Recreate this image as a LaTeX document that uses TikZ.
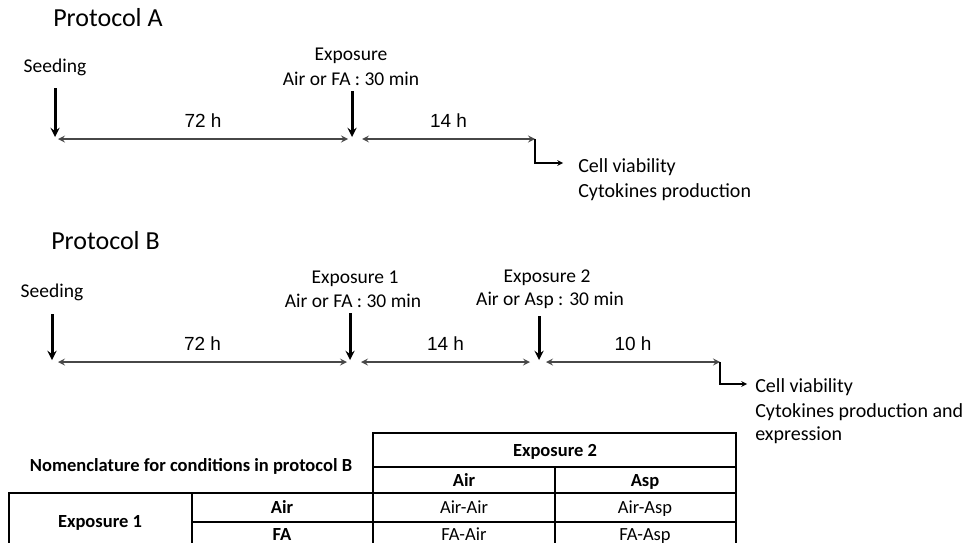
\documentclass[tikz,border=0pt]{standalone}
\usepackage{fontspec}
\setmainfont{Carlito}
\newfontfamily\hourfont{Liberation Sans}
\usetikzlibrary{arrows}

\begin{document}
\begin{tikzpicture}[
            x = 1pt, y = -1pt, % one unit per pixel, y pointing down
            > = stealth, % arrow head style
            every node/.style = {inner sep = 0pt},
            semithick % line style
        ]

        \tikzstyle{title}=[anchor = base west, font = \fontsize{26}{30}\selectfont]
        \tikzstyle{event}=[anchor = base, font = \fontsize{19.5}{24}\selectfont]
        \tikzstyle{hours}=[anchor = base, text = black, yshift = 12pt, font = \hourfont\fontsize{19}{22}\selectfont]
        \tikzstyle{drop}=[->, line width = 3pt, black]
        \tikzstyle{span}=[<->, line width = 2pt, black!72]
        \tikzstyle{readout}=[->, line width = 1.5pt, black]
        \tikzstyle{result}=[anchor = base west, font = \fontsize{20}{24}\selectfont]
        \tikzstyle{cell}=[anchor = base, font = \fontsize{18.5}{21}\selectfont]
        \tikzstyle{head}=[anchor = base, font = \bfseries\fontsize{18.5}{21}\selectfont]
        \tikzstyle{rule}=[line width = 1.6pt, black]

        \useasboundingbox (0,0) rectangle (966,543);

        % Protocol A
        \node[title] (titleA) at (53,27) {Protocol A};

        \node[event] (seedA) at (55,72) {Seeding};
        \node[event] (expA) at (351,60) {Exposure};
        \node[event] (condA) at (351,85) {Air or FA : 30 min};

        \coordinate (seedtopA) at (55,88);
        \coordinate (seedA0) at (55,137);
        \coordinate (exptopA) at (352,91);
        \coordinate (expA0) at (352,137);
        \coordinate (t0A) at (58,139);
        \coordinate (t1A) at (348,139);
        \coordinate (t2A) at (362,139);
        \coordinate (t3A) at (535,139);
        \coordinate (outA) at (563,163);

        \draw[drop] (seedtopA) -- (seedA0);
        \draw[drop] (exptopA) -- (expA0);
        \draw[span] (t0A) -- node[hours] (h72A) {72 h} (t1A);
        \draw[span] (t2A) -- node[hours] (h14A) {14 h} (t3A);
        \draw[readout] (t3A) |- (outA);

        \node[result] (cellA) at (578,172) {Cell viability};
        \node[result] (cytoA) at (578,197) {Cytokines production};

        % Protocol B
        \node[title] (titleB) at (51,249) {Protocol B};

        \node[event] (seedB) at (52,297) {Seeding};
        \node[event] (exp1B) at (355,283) {Exposure 1};
        \node[event] (cond1B) at (353,307) {Air or FA : 30 min};
        \node[event] (exp2B) at (547,282) {Exposure 2};
        \node[event] (cond2B) at (550,305) {Air or Asp : 30 min};

        \coordinate (seedtopB) at (52,314);
        \coordinate (seedB0) at (52,360);
        \coordinate (exp1topB) at (350,313);
        \coordinate (exp1B0) at (350,360);
        \coordinate (exp2topB) at (539,316);
        \coordinate (exp2B0) at (539,360);
        \coordinate (t0B) at (58,362);
        \coordinate (t1B) at (347,362);
        \coordinate (t2B) at (361,362);
        \coordinate (t3B) at (530,362);
        \coordinate (t4B) at (546,362);
        \coordinate (t5B) at (720,362);
        \coordinate (outB) at (747,384);

        \draw[drop] (seedtopB) -- (seedB0);
        \draw[drop] (exp1topB) -- (exp1B0);
        \draw[drop] (exp2topB) -- (exp2B0);
        \draw[span] (t0B) -- node[hours] (h72B) {72 h} (t1B);
        \draw[span] (t2B) -- node[hours] (h14B) {14 h} (t3B);
        \draw[span] (t4B) -- node[hours] (h10B) {10 h} (t5B);
        \draw[readout] (t5B) |- (outB);

        \node[result] (cellB) at (755,392) {Cell viability};
        \node[result] (cytoB) at (755,417) {Cytokines production and};
        \node[result] (exprB) at (755,440) {expression};

        % nomenclature table
        \draw[rule] (373,548) -- (373,433) -- (736,433) -- (736,548);
        \draw[rule] (373,467) -- (736,467);
        \draw[rule] (9,548) -- (9,493) -- (736,493);
        \draw[rule] (192,522) -- (736,522);
        \draw[rule] (192,493) -- (192,548);
        \draw[rule] (555,467) -- (555,548);

        \node[head] (nomen) at (191,471) {Nomenclature for conditions in protocol B};
        \node[head] (exp2col) at (555,456) {Exposure 2};
        \node[head] (aircol) at (464,486) {Air};
        \node[head] (aspcol) at (645,486) {Asp};
        \node[head] (exp1row) at (100,527) {Exposure 1};
        \node[head] (airrow) at (282,513) {Air};
        \node[head] (farow) at (282,540) {FA};
        \node[cell] (airair) at (464,513) {Air-Air};
        \node[cell] (airasp) at (645,513) {Air-Asp};
        \node[cell] (faair) at (464,540) {FA-Air};
        \node[cell] (faasp) at (645,540) {FA-Asp};

    \end{tikzpicture}
\end{document}
